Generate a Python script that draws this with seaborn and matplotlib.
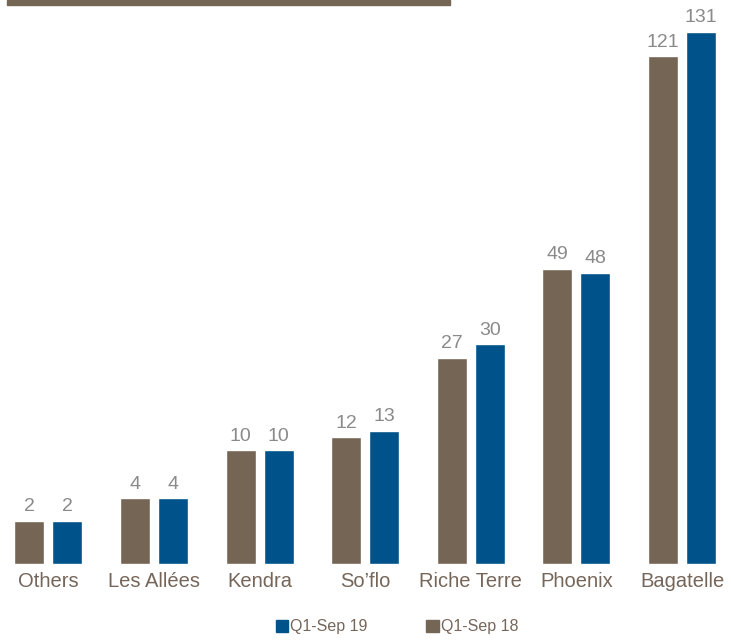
import numpy as np
import pandas as pd
import matplotlib
matplotlib.use('Agg')
import matplotlib.pyplot as plt
from matplotlib.patches import Rectangle, Patch
import seaborn as sns

# Данные графика
categories = ['Others', 'Les Allées', 'Kendra', 'So\u2019flo', 'Riche Terre', 'Phoenix', 'Bagatelle']
sep18 = [2, 4, 10, 12, 27, 49, 121]
sep19 = [2, 4, 10, 13, 30, 48, 131]
series = ['Q1-Sep 18', 'Q1-Sep 19']

BROWN = '#756555'
BLUE = '#00538A'
LABEL_GREY = '#8a8a8a'
TEXT_BROWN = '#76665a'

df = pd.DataFrame({
    'category': categories * 2,
    'series': [series[0]] * len(categories) + [series[1]] * len(categories),
    'value': sep18 + sep19,
})

sns.set_style('white')
plt.rcParams['font.family'] = ['Liberation Sans', 'DejaVu Sans']

fig = plt.figure(figsize=(7.31, 6.4), dpi=100)
# Оси: от левого края до правого, низ на уровне базовой линии
ax = fig.add_axes([0, 1 - 564 / 640, 1, (564 - 10) / 640])

sns.barplot(data=df, x='category', y='value', hue='series', order=categories,
            hue_order=series, palette=[BROWN, BLUE], width=0.72, gap=0.21,
            saturation=1, legend=False, ax=ax)

# Нелинейная шкала, как на оригинале
p = 0.6
ax.set_yscale('function', functions=(lambda v: np.sign(v) * np.abs(v) ** p,
                                      lambda v: np.sign(v) * np.abs(v) ** (1 / p)))
ax.set_ylim(0, 140)
ax.set_xlim(-0.459, 6.464)

for cont in ax.containers:
    ax.bar_label(cont, padding=4, color=LABEL_GREY, fontsize=14)

ax.set_xlabel('')
ax.set_ylabel('')
ax.set_yticks([])
ax.tick_params(axis='x', length=0, pad=6, labelsize=14.5, labelcolor=TEXT_BROWN)
for s in ax.spines.values():
    s.set_visible(False)

# Декоративная полоса сверху
fig.patches.append(Rectangle((7 / 731, 1 - 5 / 640), (450 - 7) / 731, 5 / 640,
                             transform=fig.transFigure, color=BROWN, zorder=0))

handles = [Patch(color=BLUE, label=series[1]), Patch(color=BROWN, label=series[0])]
fig.legend(handles=handles, loc='center', bbox_to_anchor=(0.543, 1 - 627 / 640),
           ncol=2, frameon=False, fontsize=11.5, labelcolor=TEXT_BROWN,
           handlelength=0.8, handleheight=0.8, handletextpad=0.1,
           columnspacing=3.7, borderaxespad=0)

fig.savefig('out.png', dpi=100)
